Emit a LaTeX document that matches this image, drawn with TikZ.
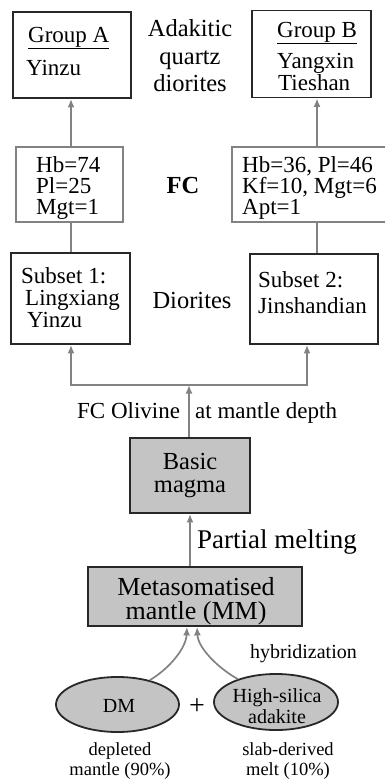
\documentclass[tikz,border=0pt]{standalone}
\usepackage{fontspec}
\setmainfont{Liberation Serif}
\usetikzlibrary{arrows.meta,shapes.geometric}
\definecolor{linegray}{RGB}{130,130,130}
\definecolor{fillgray}{RGB}{196,196,196}
\definecolor{boxblack}{RGB}{40,40,40}
\tikzset{
  blackbox/.style={draw=boxblack, line width=1.8pt, inner sep=0pt},
  graybox/.style={draw=linegray, line width=1.5pt, inner sep=0pt},
  fillbox/.style={blackbox, fill=fillgray},
  fillell/.style={ellipse, draw=boxblack, line width=1.8pt, fill=fillgray, inner sep=0pt},
  conn/.style={draw=linegray, line width=1.7pt},
  arr/.style={conn, -{Latex[length=8.5pt,width=7pt]}},
  txt/.style={inner sep=0pt, font=\fontsize{23}{22}\selectfont},
  bigtxt/.style={inner sep=0pt, font=\fontsize{24.5}{24}\selectfont},
  smalltxt/.style={inner sep=0pt, font=\fontsize{20}{20}\selectfont},
  tinytxt/.style={inner sep=0pt, font=\fontsize{18.5}{18}\selectfont},
}
\begin{document}
\begin{tikzpicture}[x=1pt,y=-1pt]
\useasboundingbox (0,0) rectangle (384,779);
% boxes
\node[blackbox, minimum width=118pt, minimum height=86pt] (grpA) at (72,55) {};
\node[blackbox, minimum width=119pt, minimum height=87pt] (grpB) at (311.5,54) {};
\node[graybox, minimum width=107pt, minimum height=75pt] (hbA) at (69.5,184.5) {};
\node[graybox, minimum width=156pt, minimum height=75pt] (hbB) at (310,184.5) {};
\node[blackbox, minimum width=119pt, minimum height=91pt] (sub1) at (70.5,298.5) {};
\node[blackbox, minimum width=128pt, minimum height=90pt] (sub2) at (314,299) {};
\node[fillbox, minimum width=120pt, minimum height=75pt] (basic) at (190,475.5) {};
\node[fillbox, minimum width=214pt, minimum height=59pt] (mm) at (195,596.5) {};
\node[fillell, minimum width=123pt, minimum height=55pt] (dm) at (117.5,704.5) {};
\node[fillell, minimum width=124pt, minimum height=56pt] (ad) at (276,702) {};
% texts
\node[txt, anchor=base west] (tgA) at (28,42) {\underline{Group A}};
\node[txt, anchor=base west] (tyA) at (26,75) {Yinzu};
\node[bigtxt, anchor=base] (tad1) at (190,36) {Adakitic};
\node[bigtxt, anchor=base] (tad2) at (190,64) {quartz};
\node[bigtxt, anchor=base] (tad3) at (190,91) {diorites};
\node[txt, anchor=base west] (tgB) at (277,37) {\underline{Group B}};
\node[txt, anchor=base west] (tyB1) at (277,68) {Yangxin};
\node[txt, anchor=base west] (tyB2) at (278,90) {Tieshan};
\node[txt, anchor=base west] (thA1) at (36,172) {Hb=74};
\node[txt, anchor=base west] (thA2) at (36,193) {Pl=25};
\node[txt, anchor=base west] (thA3) at (36,214) {Mgt=1};
\node[txt, anchor=base west] (thB1) at (242,172) {Hb=36, Pl=46};
\node[txt, anchor=base west] (thB2) at (242,193) {Kf=10, Mgt=6};
\node[txt, anchor=base west] (thB3) at (242,214) {Apt=1};
\node[bigtxt, anchor=base, font=\fontsize{24.5}{24}\selectfont\bfseries] (tfc) at (183,193) {FC};
\node[txt, anchor=base west] (ts11) at (21,283) {Subset 1:};
\node[txt, anchor=base west] (ts12) at (25,305) {Lingxiang};
\node[txt, anchor=base west] (ts13) at (27,327) {Yinzu};
\node[txt, anchor=base west] (ts21) at (258,287) {Subset 2:};
\node[txt, anchor=base west] (ts22) at (258,313) {Jinshandian};
\node[bigtxt, anchor=base] (tdio) at (192,308) {Diorites};
\node[txt, anchor=base west] (tfco) at (77,418) {FC Olivine};
\node[txt, anchor=base west] (tdep) at (195,418) {at mantle depth};
\node[bigtxt, anchor=base] (tbas1) at (190,469) {Basic};
\node[bigtxt, anchor=base] (tbas2) at (190,492) {magma};
\node[inner sep=0pt, font=\fontsize{27}{26}\selectfont, anchor=base west] (tpm) at (197,548) {Partial melting};
\node[inner sep=0pt, font=\fontsize{26}{25}\selectfont, anchor=base] (tmm1) at (196,595) {Metasomatised};
\node[inner sep=0pt, font=\fontsize{26}{25}\selectfont, anchor=base] (tmm2) at (196,619) {mantle (MM)};
\node[smalltxt, anchor=base west] (thyb) at (250,658) {hybridization};
\node[smalltxt, anchor=base] (tdm) at (119,712) {DM};
\node[inner sep=0pt, font=\fontsize{28}{28}\selectfont, anchor=base] (tplus) at (197,714) {+};
\node[smalltxt, anchor=base] (tad1b) at (277,702) {High-silica};
\node[smalltxt, anchor=base] (tad2b) at (277,723) {adakite};
\node[tinytxt, anchor=base] (tdp1) at (120,755) {depleted};
\node[tinytxt, anchor=base] (tdp2) at (120,775) {mantle (90\%)};
\node[tinytxt, anchor=base] (tsl1) at (288,755) {slab-derived};
\node[tinytxt, anchor=base] (tsl2) at (288,775) {melt (10\%)};
% connectors
\coordinate (J) at (189,385);
\draw[arr] (hbA.north -| 71,0) -- (grpA.south -| 71,0);
\draw[arr] (hbB.north -| 317,0) -- (grpB.south -| 317,0);
\draw[conn] (hbA.south -| 71,0) -- (sub1.north -| 71,0);
\draw[conn] (hbB.south -| 317,0) -- (sub2.north -| 317,0);
\draw[arr] (basic.north -| J) -- (J);
\draw[arr] (J) -| (sub1.south -| 71,0);
\draw[arr] (J) -| (sub2.south -| 307,0);
\draw[arr] (mm.north -| 190,0) -- (basic.south -| 190,0);
\draw[arr] (dm.37) .. controls (170,668) and (186,648) .. ([xshift=-8pt]mm.south);
\draw[arr] (ad.149) .. controls (218,668) and (198,648) .. ([xshift=2pt]mm.south);
\end{tikzpicture}
\end{document}
